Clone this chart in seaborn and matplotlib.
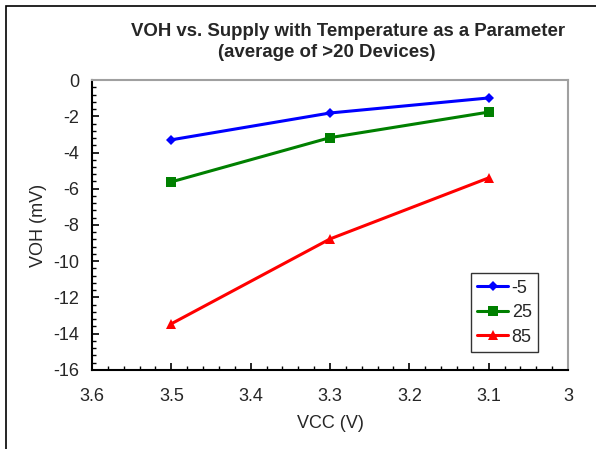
import pandas as pd
import numpy as np
import matplotlib
matplotlib.use("Agg")
import matplotlib.pyplot as plt
import seaborn as sns
from matplotlib.patches import Rectangle
from matplotlib.ticker import MultipleLocator

# data
vcc = [3.5, 3.3, 3.1]
temps = ["-5", "25", "85"]
voh_m5 = [-3.3, -1.82, -0.99]
voh_25 = [-5.62, -3.18, -1.77]
voh_85 = [-13.45, -8.77, -5.4]

df = pd.DataFrame({
    "VCC": vcc * 3,
    "VOH": voh_m5 + voh_25 + voh_85,
    "Temp": [t for t in temps for _ in vcc],
})

sns.set_style("white")
plt.rcParams["font.family"] = ["Liberation Sans", "DejaVu Sans"]
plt.rcParams["axes.unicode_minus"] = False

fig = plt.figure(figsize=(5.96, 4.49), dpi=100)
ax = fig.add_axes([0.1544, 0.176, 0.7986, 0.6458])

colors = {"-5": "#0000ff", "25": "#008000", "85": "#ff0000"}
marks = {"-5": "D", "25": "s", "85": "^"}
sizes = {"-5": 5, "25": 7, "85": 7}
for t in temps:
    sub = df[df["Temp"] == t]
    sns.lineplot(data=sub, x="VCC", y="VOH", ax=ax, color=colors[t], marker=marks[t],
                 markersize=sizes[t], markeredgewidth=0, linewidth=2.2, label=t, sort=False)

ax.set_xlim(3.6, 3.0)
ax.set_ylim(-16, 0)
ax.xaxis.set_major_locator(MultipleLocator(0.1))
ax.xaxis.set_minor_locator(MultipleLocator(0.02))
ax.yaxis.set_major_locator(MultipleLocator(2))
ax.yaxis.set_minor_locator(MultipleLocator(0.4))
ax.set_xticks(np.arange(3.0, 3.61, 0.1))
ax.set_xticklabels(["3", "3.1", "3.2", "3.3", "3.4", "3.5", "3.6"])
ax.tick_params(axis="both", which="major", direction="in", length=5, width=1.2,
               labelsize=13, color="black")
ax.tick_params(axis="x", which="major", pad=13)
ax.tick_params(axis="y", which="major", pad=9)
ax.tick_params(axis="both", which="minor", direction="in", length=3, width=1.0, color="black")
ax.tick_params(top=False, right=False, which="both", bottom=True, left=True)
ax.set_xlabel("VCC (V)", fontsize=13, labelpad=7)
ax.set_ylabel("VOH (mV)", fontsize=13, labelpad=5)

for s in ["left", "bottom"]:
    ax.spines[s].set_color("black")
    ax.spines[s].set_linewidth(1.5)
for s in ["top", "right"]:
    ax.spines[s].set_color("#a0a0a0")
    ax.spines[s].set_linewidth(1.5)

leg = ax.legend(loc="lower right", bbox_to_anchor=(0.937, 0.062), fontsize=13, frameon=True,
                fancybox=False, edgecolor="black", handlelength=1.7, borderpad=0.35,
                labelspacing=0.42, handletextpad=0.2, borderaxespad=0)
leg.get_frame().set_linewidth(1.0)

fig.text(0.584, 0.93, "VOH vs. Supply with Temperature as a Parameter", ha="center",
         va="center", fontsize=13.4, fontweight="bold")
fig.text(0.549, 0.882, "(average of >20 Devices)", ha="center", va="center",
         fontsize=13.4, fontweight="bold")

fig.patches.append(Rectangle((6 / 596, -0.1), 1.2, 1.1 - 6 / 449, transform=fig.transFigure,
                             fill=False, edgecolor="black", linewidth=1.2))

fig.savefig("out.png", dpi=100)
